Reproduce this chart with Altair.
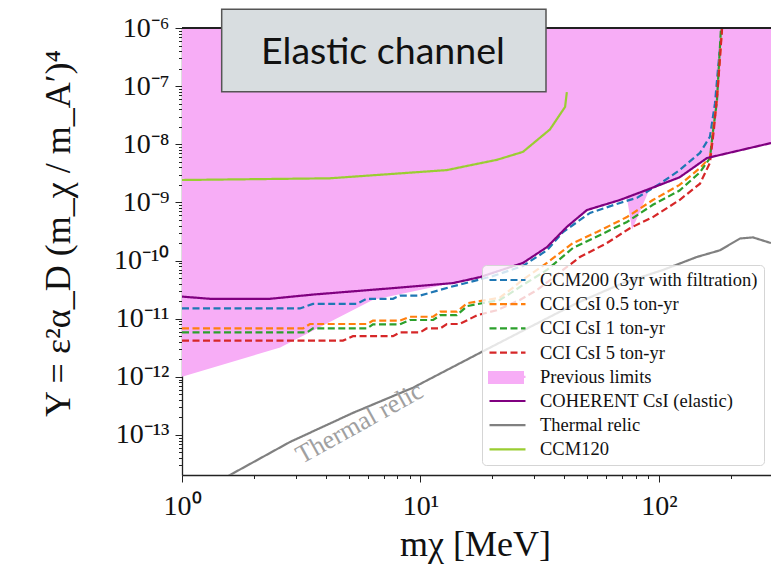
import altair as alt
import pandas as pd

# ---------------- data ----------------
ccm200_m = [1, 3.12, 3.54, 5.4, 5.95, 7.67, 8.2, 9.95, 13.3, 20.1, 26.9, 33.9, 39.6, 51.4, 68.6, 80.9, 101, 122, 148.6, 163.6, 171.8, 176.7, 183.7]
ccm200_y = [1.5e-11, 1.5e-11, 1.8e-11, 1.8e-11, 2.2e-11, 2.2e-11, 2.5e-11, 2.5e-11, 3.5e-11, 5.4e-11, 8.1e-11, 1.5e-10, 3.1e-10, 6.6e-10, 9.8e-10, 1.2e-9, 2.1e-9, 3.6e-9, 7.1e-9, 1.35e-8, 5.1e-8, 1.9e-7, 1e-6]

cci05_m = [1, 3.22, 3.44, 5.97, 6.32, 8.2, 9.03, 11.3, 12.1, 14.2, 15.7, 21.5, 23.7, 26.9, 33.9, 43.6, 55.0, 73.4, 94.3, 122, 148.6, 163.6, 168, 175, 183.7]
cci05_y = [6.8e-12, 6.8e-12, 8.1e-12, 8.1e-12, 9.3e-12, 9.3e-12, 1.08e-11, 1.08e-11, 1.32e-11, 1.32e-11, 1.85e-11, 2.3e-11, 3.1e-11, 4.7e-11, 9.1e-11, 2.0e-10, 3.1e-10, 5.6e-10, 1.1e-9, 2.0e-9, 3.9e-9, 6.0e-9, 1.5e-8, 5.8e-8, 1e-6]

cci1_m = [1, 3.34, 3.54, 5.97, 6.32, 8.2, 9.03, 11.3, 12.1, 14.2, 15.7, 21.5, 23.7, 26.9, 33.9, 43.6, 55.0, 73.4, 94.3, 122, 148.6, 163.6, 168, 175, 182]
cci1_y = [5.8e-12, 5.8e-12, 6.8e-12, 6.8e-12, 8.0e-12, 8.0e-12, 9.5e-12, 9.5e-12, 1.15e-11, 1.15e-11, 1.65e-11, 2.1e-11, 2.7e-11, 3.8e-11, 6.9e-11, 1.65e-10, 2.6e-10, 4.6e-10, 9.1e-10, 1.6e-9, 3.3e-9, 5.8e-9, 1.5e-8, 5.5e-8, 1e-6]

cci5_m = [1, 4.73, 5.21, 7.67, 8.2, 9.95, 10.6, 12.1, 12.9, 14.6, 17.3, 20.9, 26.1, 30.8, 39.6, 46.6, 60.5, 75.5, 94.3, 122, 148.6, 163.6, 170, 176.7, 184]
cci5_y = [4.2e-12, 4.2e-12, 5.0e-12, 5.0e-12, 5.8e-12, 5.8e-12, 6.8e-12, 6.8e-12, 8.1e-12, 8.1e-12, 1.15e-11, 1.4e-11, 2.1e-11, 3.1e-11, 6.9e-11, 1.15e-10, 2.0e-10, 3.6e-10, 5.6e-10, 1.1e-9, 2.1e-9, 4.8e-9, 1.8e-8, 1.0e-7, 1e-6]

coherent_m = [1, 1.31, 2.34, 3.54, 7.97, 13.7, 17.8, 26.9, 33.9, 41.1, 49.9, 68.6, 94.3, 122, 159, 295]
coherent_y = [2.4e-11, 2.2e-11, 2.2e-11, 2.6e-11, 3.4e-11, 4.1e-11, 5.2e-11, 9.1e-11, 1.7e-10, 3.8e-10, 7.4e-10, 1.1e-9, 1.8e-9, 2.7e-9, 5.8e-9, 1.05e-8]

thermal_m = [1.5, 1.64, 2.84, 5.21, 9.3, 17.8, 28.8, 45.3, 70.6, 104, 144, 180, 219, 248, 295]
thermal_y = [1.8e-14, 2.2e-14, 7.6e-14, 2.4e-13, 6.5e-13, 2.6e-12, 7.2e-12, 1.86e-11, 4.1e-11, 6.9e-11, 1.15e-10, 1.5e-10, 2.4e-10, 2.5e-10, 2.0e-10]

ccm120_m = [1, 4.17, 12.9, 20.9, 26.9, 34.9, 40.4, 41.1]
ccm120_y = [2.43e-9, 2.6e-9, 3.6e-9, 5.4e-9, 7.4e-9, 1.8e-8, 4.4e-8, 7.9e-8]

# lower edge of the "Previous limits" region (upper edge is the top of the plot)
prev_m = [1, 2.58, 6.3, 15.1, 17.8, 26.9, 33.9, 41.1, 49.9, 68.6, 73.4, 77.1, 91.7, 94.3, 122, 159, 295]
prev_lo = [1e-12, 3.2e-12, 2.1e-11, 4.5e-11, 5.2e-11, 9.1e-11, 1.7e-10, 3.8e-10, 7.4e-10, 1.1e-9, 1.2e-9, 3.4e-10, 1.75e-9, 1.8e-9, 2.7e-9, 5.8e-9, 1.05e-8]
prev_name = ["Previous limits"] * len(prev_m)

series_names = ["CCM200 (3yr with filtration)", "CCI CsI 0.5 ton-yr", "CCI CsI 1 ton-yr",
                "CCI CsI 5 ton-yr", "Previous limits", "COHERENT CsI (elastic)",
                "Thermal relic", "CCM120"]

x_domain = [1, 295]
y_domain = [2.05e-14, 1e-6]

x_tick_exp = [0, 1, 2]
x_tick_text = ["10⁰", "10¹", "10²"]
y_tick_exp = [-13, -12, -11, -10, -9, -8, -7, -6]
y_tick_text = ["10⁻¹³", "10⁻¹²", "10⁻¹¹", "10⁻¹⁰", "10⁻⁹", "10⁻⁸", "10⁻⁷", "10⁻⁶"]

thermal_label = ["Thermal relic"]
thermal_label_m = [5.55]
thermal_label_y = [1.6e-13]

box_text = ["Elastic channel"]
box_x1, box_x2 = [1.467], [33.6]
box_y1, box_y2 = [2.1e-6], [8.0e-8]
box_text_m, box_text_y = [6.96], [2.4e-7]

# ---------------- styles ----------------
series_colors = ["#1f77b4", "#ff7f0e", "#2ca02c", "#d62728", "#f7adf6", "#800080", "#808080", "#9acd32"]
series_dash = [[7, 3.5], [7, 3.5], [7, 3.5], [7, 3.5], [1, 0], [1, 0], [1, 0], [1, 0]]
series_width = [2.2, 2.2, 2.2, 2.2, 2, 2.6, 2, 2]
pink = "#f7adf6"
serif = "Liberation Serif"

legend_x, legend_y = 300, 237
legend_pad = 6
legend_clip = 18
legend_row_pad = 5.2
legend_row = 24.4

# ---------------- tables ----------------
rows = []
for name, ms, ys in [
    (series_names[0], ccm200_m, ccm200_y),
    (series_names[1], cci05_m, cci05_y),
    (series_names[2], cci1_m, cci1_y),
    (series_names[3], cci5_m, cci5_y),
    (series_names[5], coherent_m, coherent_y),
    (series_names[6], thermal_m, thermal_y),
    (series_names[7], ccm120_m, ccm120_y),
]:
    for i, (m, y) in enumerate(zip(ms, ys)):
        rows.append({"series": name, "m": m, "Y": y, "idx": i})
lines_df = pd.DataFrame(rows)
prev_df = pd.DataFrame({"m": prev_m, "lo": prev_lo, "kind": prev_name})
thermal_lbl_df = pd.DataFrame({"m": thermal_label_m, "Y": thermal_label_y, "t": thermal_label})
box_df = pd.DataFrame({"m": box_x1, "x2": box_x2, "Y": box_y1, "y2": box_y2})
box_txt_df = pd.DataFrame({"m": box_text_m, "Y": box_text_y, "t": box_text})


def major_test():
    return "abs(log(datum.value)/LN10 - round(log(datum.value)/LN10)) < 0.001"


def label_chain(exps, texts):
    s = "''"
    for e, t in reversed(list(zip(exps, texts))):
        s = f"(abs(log(datum.value)/LN10 - ({e})) < 0.001) ? '{t}' : ({s})"
    return s


x_minor = [k * 10 ** e for e in range(0, 3) for k in range(2, 10) if k * 10 ** e <= x_domain[1]]
x_values = [10 ** e for e in x_tick_exp] + x_minor
y_minor = [k * 10.0 ** e for e in range(-14, -6) for k in range(2, 10)
           if y_domain[0] <= k * 10.0 ** e <= y_domain[1]]
y_values = [10.0 ** e for e in y_tick_exp] + y_minor

xscale = alt.Scale(type="log", domain=x_domain, nice=False)
yscale = alt.Scale(type="log", domain=y_domain, nice=False)

tick_size = {"condition": {"test": major_test(), "value": 7}, "value": 3.5}

x_axis = alt.Axis(
    values=x_values, labelExpr=label_chain(x_tick_exp, x_tick_text), tickSize=tick_size,
    labelFont=serif, labelFontSize=28, labelColor="#111111", labelPadding=10,
    labelOverlap=False, labelFlush=False, domainColor="#222222", domainWidth=1.3,
    tickColor="#222222", tickWidth=1, grid=False,
    title="mχ [MeV]", titleFont=serif, titleFontSize=36, titleFontWeight="normal",
    titleColor="#111111", titleX=293, titleY=69, titleBaseline="middle", titleAlign="center",
)
y_axis = alt.Axis(
    values=y_values, labelExpr=label_chain(y_tick_exp, y_tick_text), tickSize=tick_size,
    labelFont=serif, labelFontSize=28, labelColor="#111111", labelPadding=6,
    labelOverlap=False, labelFlush=False, domainColor="#222222", domainWidth=1.3,
    tickColor="#222222", tickWidth=1, grid=False,
    title="Y = ε²α_D (m_χ / m_A′)⁴", titleFont=serif, titleFontSize=36, titleFontWeight="normal",
    titleColor="#111111", titleX=-124, titleY=205, titleAngle=270,
    titleBaseline="middle", titleAlign="center",
)

legend = alt.Legend(
    title=None, orient="none", legendX=legend_x, legendY=legend_y, symbolType="stroke",
    symbolSize=1296, symbolStrokeWidth=2.2, labelFont=serif, labelFontSize=18.5,
    labelColor="#111111", labelLimit=400, labelOffset=13, rowPadding=legend_row_pad,
    clipHeight=legend_clip, padding=legend_pad,
    fillColor="rgba(255,255,255,0.8)", strokeColor="#d5d5d5", cornerRadius=4, zindex=0,
)

# a second, label-less legend that paints the filled swatch of "Previous limits"
swatch_legend = alt.Legend(
    title=None, orient="none", legendX=legend_x, legendY=legend_y + 4 * legend_row,
    symbolType="M-1,-0.36H1V0.36H-1Z", symbolSize=1296, symbolStrokeWidth=0,
    symbolOpacity=1, labelFont=serif, labelFontSize=18.5, labelExpr="''",
    labelOffset=13, clipHeight=legend_clip, padding=legend_pad, zindex=2,
)

X = alt.X("m:Q", scale=xscale, axis=x_axis)
Yc = alt.Y("Y:Q", scale=yscale, axis=y_axis)

area = alt.Chart(prev_df).mark_area(clip=True, opacity=1).encode(
    x=X,
    y=alt.Y("lo:Q", scale=yscale, axis=y_axis),
    y2=alt.datum(y_domain[1]),
    fill=alt.Fill("kind:N", scale=alt.Scale(domain=["Previous limits"], range=[pink]), legend=swatch_legend),
)

lines = alt.Chart(lines_df).mark_line(clip=True).encode(
    x=X, y=Yc,
    color=alt.Color("series:N", scale=alt.Scale(domain=series_names, range=series_colors), legend=legend),
    strokeDash=alt.StrokeDash("series:N", scale=alt.Scale(domain=series_names, range=series_dash), legend=legend),
    strokeWidth=alt.StrokeWidth("series:N", scale=alt.Scale(domain=series_names, range=series_width), legend=None),
    order=alt.Order("idx:Q"),
)

top_rule = alt.Chart(prev_df).mark_rule(color="#222222", strokeWidth=1.3).encode(
    y=alt.datum(y_domain[1], scale=yscale)
)

thermal_text = alt.Chart(thermal_lbl_df).mark_text(
    angle=331, font=serif, fontSize=26, color="#a0a0a0", align="center", baseline="middle"
).encode(x=X, y=Yc, text="t:N")

box = alt.Chart(box_df).mark_rect(fill="#d8dde0", stroke="#555555", strokeWidth=1.5).encode(
    x=X, x2="x2:Q", y=Yc, y2="y2:Q",
)

box_txt = alt.Chart(box_txt_df).mark_text(
    font="Lato", fontSize=37.5, color="#111111", align="center", baseline="alphabetic"
).encode(x=X, y=Yc, text="t:N")

chart = alt.layer(area, lines, top_rule, thermal_text, box, box_txt).properties(
    width=589, height=447,
    padding={"left": 182, "top": 28, "right": 0, "bottom": 89},
    autosize=alt.AutoSizeParams(type="none"),
).configure_view(stroke=None).configure(background="white")

chart.save("out.html", embed_options={"renderer": "svg", "actions": False})
